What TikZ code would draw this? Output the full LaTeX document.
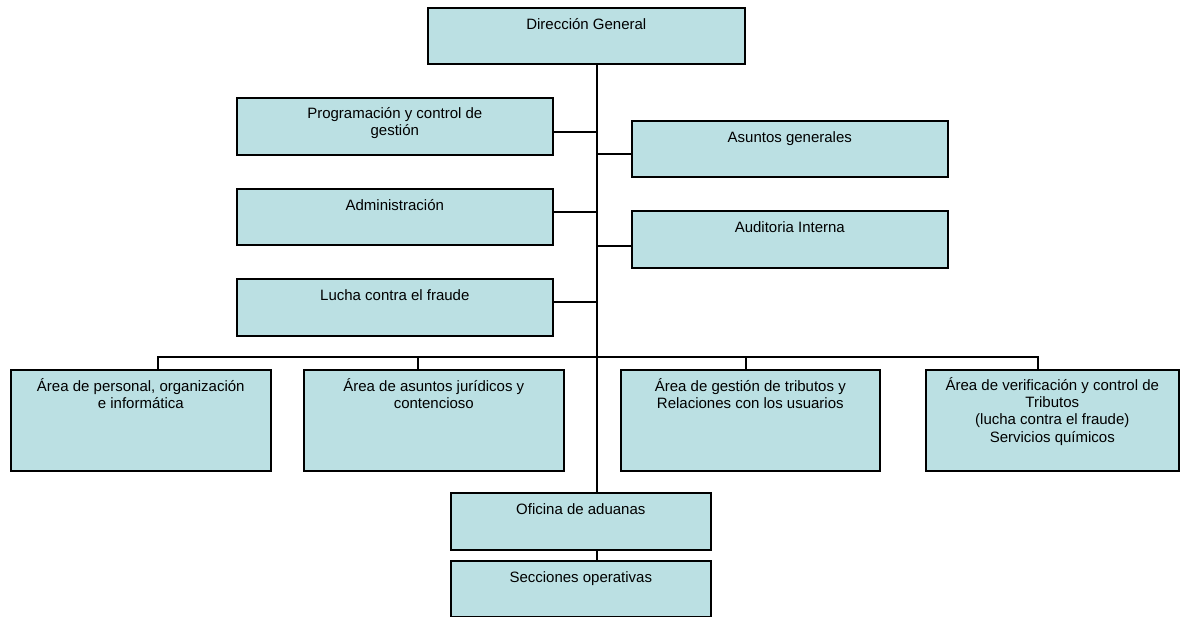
\documentclass[tikz,border=0pt]{standalone}
\usepackage{fontspec}
\setmainfont{Liberation Sans}
% invisible strut that fixes the top of the first text line
\newcommand\lblstrut{\rule{0pt}{15pt}}
\begin{document}
\definecolor{boxfill}{HTML}{BBE0E3}
\begin{tikzpicture}[x=1pt,y=-1pt,
  unitbox/.style={draw=black, line width=1.6pt, fill=boxfill, rectangle,
    inner sep=0pt, anchor=north west},
  lbl/.style={anchor=north, inner sep=0pt, align=center,
    font=\fontsize{15}{17.3}\selectfont},
  link/.style={draw=black, line width=1.5pt}]
\useasboundingbox (0,0) rectangle (1184,617);

% connector positions shared by several branches
\coordinate (trunk) at (597,0);
\coordinate (bus) at (0,357);

% boxes: top-left corner, width, height
\node[unitbox, minimum width=317pt, minimum height=56pt] (dg) at (427,7) {};
\node[unitbox, minimum width=316pt, minimum height=57pt] (prog) at (236,97) {};
\node[unitbox, minimum width=316pt, minimum height=56pt] (asun) at (631,120) {};
\node[unitbox, minimum width=316pt, minimum height=56pt] (adm) at (236,188) {};
\node[unitbox, minimum width=316pt, minimum height=57pt] (aud) at (631,210) {};
\node[unitbox, minimum width=316pt, minimum height=57pt] (lucha) at (236,278) {};
\node[unitbox, minimum width=260pt, minimum height=101pt] (per) at (10,369) {};
\node[unitbox, minimum width=260pt, minimum height=101pt] (jur) at (303,369) {};
\node[unitbox, minimum width=259pt, minimum height=101pt] (ges) at (620,369) {};
\node[unitbox, minimum width=253pt, minimum height=101pt] (ver) at (925,369) {};
\node[unitbox, minimum width=260pt, minimum height=57pt] (ofi) at (450,492) {};
\node[unitbox, minimum width=260pt, minimum height=56pt] (sec) at (450,560) {};

% trunk from the head office down to the customs office
\draw[link] (dg.south -| trunk) -- (ofi.north -| trunk);

% side branches off the trunk
\draw[link] ([yshift=-5.5pt]prog.east) -- ([yshift=-5.5pt]prog.east -| trunk);
\draw[link] ([yshift=-5pt]asun.west) -- ([yshift=-5pt]asun.west -| trunk);
\draw[link] ([yshift=5pt]adm.east) -- ([yshift=5pt]adm.east -| trunk);
\draw[link] ([yshift=-6.5pt]aud.west) -- ([yshift=-6.5pt]aud.west -| trunk);
\draw[link] ([yshift=5.5pt]lucha.east) -- ([yshift=5.5pt]lucha.east -| trunk);

% bus to the four areas
\coordinate (perbr) at ([xshift=17pt]per.north);
\coordinate (jurbr) at ([xshift=-16pt]jur.north);
\coordinate (gesbr) at ([xshift=-4.5pt]ges.north);
\coordinate (verbr) at ([xshift=-14.5pt]ver.north);
\draw[link] (perbr) |- (verbr |- bus) -- (verbr);
\draw[link] (jurbr) -- (jurbr |- bus);
\draw[link] (gesbr) -- (gesbr |- bus);

% office to sections
\draw[link] (ofi.south -| trunk) -- (sec.north -| trunk);

% texts: first baseline 22pt below the top edge of each box
\node[lbl] (dg-t) at ([yshift=-7pt]dg.north) {\lblstrut Dirección General};
\node[lbl] (prog-t) at ([yshift=-6pt]prog.north) {\lblstrut Programación y control de\\gestión};
\node[lbl] (asun-t) at ([yshift=-7pt]asun.north) {\lblstrut Asuntos generales};
\node[lbl] (adm-t) at ([yshift=-7pt]adm.north) {\lblstrut Administración};
\node[lbl] (aud-t) at ([yshift=-7pt]aud.north) {\lblstrut Auditoria Interna};
\node[lbl] (lucha-t) at ([yshift=-7pt]lucha.north) {\lblstrut Lucha contra el fraude};
\node[lbl] (per-t) at ([yshift=-7pt]per.north) {\lblstrut Área de personal, organización\\e informática};
\node[lbl] (jur-t) at ([yshift=-7pt]jur.north) {\lblstrut Área de asuntos jurídicos y\\contencioso};
\node[lbl] (ges-t) at ([yshift=-7pt]ges.north) {\lblstrut Área de gestión de tributos y\\Relaciones con los usuarios};
\node[lbl] (ver-t) at ([yshift=-6pt]ver.north) {\lblstrut Área de verificación y control de\\Tributos\\(lucha contra el fraude)\\Servicios químicos};
\node[lbl] (ofi-t) at ([yshift=-7pt]ofi.north) {\lblstrut Oficina de aduanas};
\node[lbl] (sec-t) at ([yshift=-7pt]sec.north) {\lblstrut Secciones operativas};
\end{tikzpicture}
\end{document}
